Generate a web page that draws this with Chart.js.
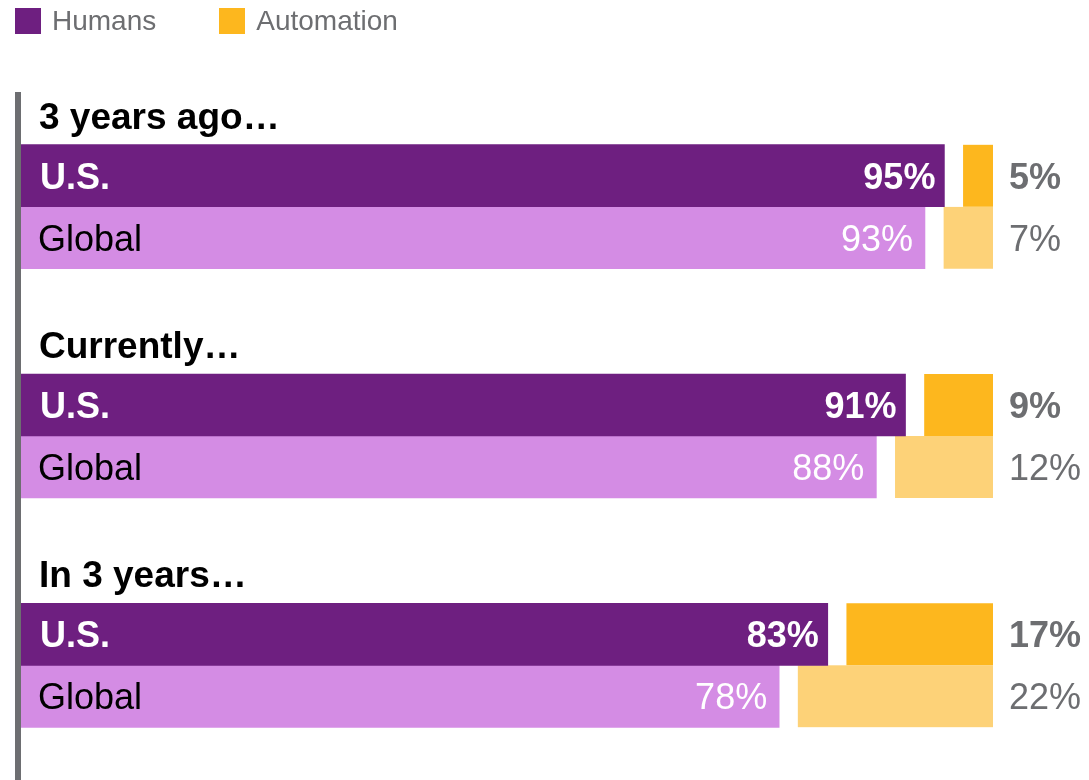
<!DOCTYPE html>
<html>
<head>
<meta charset="utf-8">
<script src="https://cdn.jsdelivr.net/npm/chart.js@4/dist/chart.umd.min.js"></script>
<style>
  body { margin: 0; background: #fff; font-family: "Liberation Sans", Arial, sans-serif; }
  #wrap { position: relative; width: 1089px; height: 780px; }
  #legend { position: absolute; left: 15px; top: 8px; display: flex; align-items: center; font-size: 28px; color: #6d6e71; }
  .item { display: flex; align-items: center; margin-right: 63px; height: 26px; }
  .box { width: 26px; height: 26px; margin-right: 11px; }
</style>
</head>
<body>
<div id="wrap">
  <canvas id="grafico" width="1089" height="780"></canvas>
  <div id="legend"></div>
</div>
<script>
const periods = ['3 years ago…', 'Currently…', 'In 3 years…'];
const regions = ['U.S.', 'Global'];
const humansUS = [95, 91, 83];
const humansGlobal = [93, 88, 78];
const automationUS = [5, 9, 17];
const automationGlobal = [7, 12, 22];

const purple = '#6e1f80';
const lightPurple = '#d48ce4';
const orange = '#fdb71e';
const lightOrange = '#fdd278';
const grey = '#6d6e71';
const fonte = '"Liberation Sans", Arial, sans-serif';

// legenda em HTML
const legend = document.getElementById('legend');
[['Humans', purple], ['Automation', orange]].forEach(([nome, cor]) => {
  const item = document.createElement('div');
  item.className = 'item';
  item.innerHTML = '<div class="box" style="background:' + cor + '"></div><span>' + nome + '</span>';
  legend.appendChild(item);
});

const gap = { left: 19, top: 0, right: 0, bottom: 0 };

const rotulos = {
  id: 'rotulos',
  beforeDatasetsDraw(chart) {
    const ctx = chart.ctx;
    const area = chart.chartArea;
    ctx.save();
    ctx.fillStyle = grey;
    ctx.fillRect(area.left - 6, area.top, 6, chart.height - area.top);
    ctx.restore();
  },
  afterDatasetsDraw(chart) {
    const ctx = chart.ctx;
    const area = chart.chartArea;
    ctx.save();
    ctx.textBaseline = 'alphabetic';
    periods.forEach((periodo, i) => {
      const us = chart.getDatasetMeta(0).data[i];
      const gl = chart.getDatasetMeta(1).data[i];
      const topo = us.y - us.height / 2;

      // titulo do grupo
      ctx.font = 'bold 37px ' + fonte;
      ctx.fillStyle = '#000';
      ctx.textAlign = 'left';
      ctx.fillText(periodo, area.left + 18, topo - 16);

      // nomes das regioes
      ctx.fillStyle = '#fff';
      ctx.font = 'bold 36px ' + fonte;
      ctx.fillText(regions[0], area.left + 19, us.y + 13);
      ctx.font = '36px ' + fonte;
      ctx.fillStyle = '#000';
      ctx.fillText(regions[1], area.left + 17, gl.y + 13);

      // valores dentro das barras
      ctx.textAlign = 'right';
      ctx.fillStyle = '#fff';
      ctx.font = 'bold 36px ' + fonte;
      ctx.fillText(humansUS[i] + '%', us.x - 9, us.y + 13);
      ctx.font = '36px ' + fonte;
      ctx.fillText(humansGlobal[i] + '%', gl.x - 12, gl.y + 13);

      // valores de automacao
      ctx.textAlign = 'left';
      ctx.fillStyle = grey;
      ctx.font = 'bold 36px ' + fonte;
      ctx.fillText(automationUS[i] + '%', area.right + 16, us.y + 13);
      ctx.font = '36px ' + fonte;
      ctx.fillText(automationGlobal[i] + '%', area.right + 16, gl.y + 13);
    });
    ctx.restore();
  }
};

const ctx = document.getElementById('grafico').getContext('2d');
const grafico = new Chart(ctx, {
  type: 'bar',
  data: {
    labels: periods,
    datasets: [
      { label: 'Humans U.S.', stack: 'us', data: humansUS.map(v => [0, v]), backgroundColor: purple },
      { label: 'Humans Global', stack: 'global', data: humansGlobal.map(v => [0, v]), backgroundColor: lightPurple },
      { label: 'Automation U.S.', stack: 'us', data: automationUS.map(v => [100 - v, 100]), backgroundColor: orange,
        borderColor: '#fff', borderWidth: gap, borderSkipped: false },
      { label: 'Automation Global', stack: 'global', data: automationGlobal.map(v => [100 - v, 100]), backgroundColor: lightOrange,
        borderColor: '#fff', borderWidth: gap, borderSkipped: false }
    ]
  },
  options: {
    indexAxis: 'y',
    responsive: false,
    animation: false,
    barThickness: 62,
    layout: { padding: { top: 92, bottom: 0, left: 21, right: 96 } },
    scales: {
      x: { min: 0, max: 100, stacked: false, display: false },
      y: { display: false }
    },
    plugins: {
      legend: { display: false },
      tooltip: { enabled: false }
    }
  },
  plugins: [rotulos]
});
</script>
</body>
</html>
